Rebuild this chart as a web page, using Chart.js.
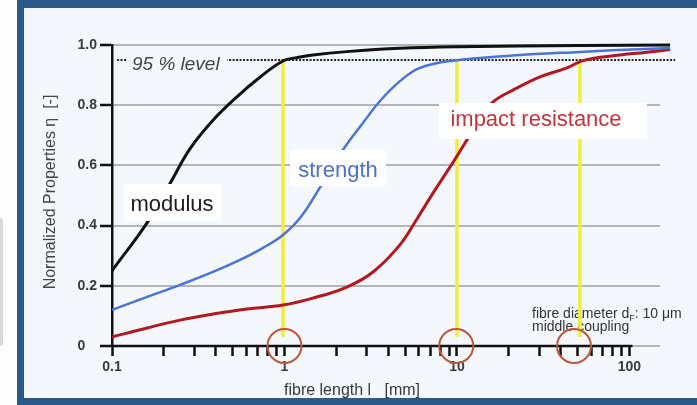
<!DOCTYPE html>
<html><head><meta charset="utf-8">
<script src="https://cdn.jsdelivr.net/npm/chart.js@4"></script>
<style>
html,body{margin:0;padding:0;background:#fdfdfd;width:697px;height:405px;overflow:hidden;}
#frame{position:absolute;left:17px;top:0;width:680px;height:405px;box-sizing:border-box;border-top:8px solid #2b5a88;border-left:7px solid #2b5a88;border-bottom:7px solid #2b5a88;background:#f4f7fb;}
#side{position:absolute;left:0;top:218px;width:3px;height:128px;background:#d8d8d8;border-radius:0 3px 3px 0;}
canvas{position:absolute;left:0;top:0;}
</style></head><body>
<div id="frame"></div><div id="side"></div>
<canvas id="c" width="697" height="405"></canvas>
<script>
// ---- data ----
const modulusX  = [0.1, 0.16, 0.217, 0.283, 0.385, 0.53, 0.72, 0.98, 1.18, 1.46, 2.3, 4.67, 10, 51.6, 172];
const modulusY  = [0.25, 0.41, 0.54, 0.655, 0.75, 0.828, 0.893, 0.947, 0.958, 0.967, 0.978, 0.989, 0.994, 0.998, 1.0];

const strengthX = [0.1, 0.16, 0.248, 0.385, 0.552, 0.751, 0.98, 1.23, 1.61, 2.18, 2.85, 3.58, 4.67, 6.1, 9.48, 21.1, 51.6, 123, 172];
const strengthY = [0.12, 0.163, 0.203, 0.246, 0.286, 0.326, 0.369, 0.425, 0.528, 0.651, 0.741, 0.814, 0.88, 0.924, 0.948, 0.965, 0.977, 0.987, 0.99];

const impactX   = [0.1, 0.16, 0.248, 0.385, 0.606, 0.98, 1.46, 2.3, 3.26, 4.67, 5.86, 7.26, 9.36, 11.4, 13.6, 16.2, 21.1, 30.3, 43.4, 53.8, 80.2, 126, 172];
const impactY   = [0.03, 0.06, 0.086, 0.106, 0.123, 0.136, 0.159, 0.196, 0.246, 0.336, 0.422, 0.508, 0.605, 0.684, 0.757, 0.811, 0.85, 0.894, 0.924, 0.948, 0.964, 0.976, 0.985];

const level = 0.95;
const levelX = [0.107, 184];
const yellowX = [0.98, 10, 51.6];
const yellowBottom = 0.03;
const circleX = [1.0, 9.9, 47.7];

const xMajorTicks = [0.1, 1, 10, 100];
const xTickLabels = ['0.1', '1', '10', '100'];
const yTickValues = [0, 0.2, 0.4, 0.6, 0.8, 1.0];
const yTickLabels = ['0', '0.2', '0.4', '0.6', '0.8', '1.0'];

const curveLabels = ['modulus', 'strength', 'impact resistance'];
const levelLabel = '95 % level';
const xTitle = 'fibre length l   [mm]';
const yTitle = 'Normalized Properties η  [-]';

// ---- helpers ----
const pts = (xs, ys) => xs.map((x, i) => ({x, y: ys[i]}));
const FONT = 'Liberation Sans, Arial, sans-serif';
function wholeSignificand(v){
  const e = Math.floor(Math.log10(v) + 1e-9);
  const s = v / Math.pow(10, e);
  return Math.abs(s - Math.round(s)) < 1e-6;
}
function xLabel(v){
  const i = xMajorTicks.findIndex(m => Math.abs(Math.log10(v) - Math.log10(m)) < 1e-6);
  return i >= 0 ? xTickLabels[i] : '';
}
function yLabel(v){
  const i = yTickValues.findIndex(t => Math.abs(t - v) < 1e-6);
  if (i < 0) return '';
  return i === 0 ? yTickLabels[i] + '   ' : yTickLabels[i];
}

const curve = {tension: 0.4, pointRadius: 0, clip: false};
const datasets = [
  {label: curveLabels[0], data: pts(modulusX, modulusY), borderColor: '#111111', borderWidth: 3, ...curve, order: 1},
  {label: curveLabels[1], data: pts(strengthX, strengthY), borderColor: '#4a74d4', borderWidth: 2.5, ...curve, order: 2},
  {label: curveLabels[2], data: pts(impactX, impactY), borderColor: '#b3171f', borderWidth: 3, ...curve, order: 3},
  {label: levelLabel, data: levelX.map(x => ({x, y: level})), borderColor: '#222222', borderWidth: 2,
   borderDash: [2, 1.5], pointRadius: 0, clip: false, order: 4},
  ...yellowX.map(x => ({data: [{x, y: level}, {x, y: yellowBottom}], borderColor: '#f1ee3c', borderWidth: 3.5,
   pointRadius: 0, clip: false, order: 5})),
  {data: circleX.map(x => ({x, y: 0})), showLine: false, pointRadius: 17, pointHoverRadius: 17,
   pointBorderColor: '#b9583c', pointBackgroundColor: 'rgba(0,0,0,0)', pointBorderWidth: 2, clip: false, order: 0}
];

const deco = {
  id: 'deco',
  beforeDatasetsDraw(chart){
    const {ctx, scales: {x, y}} = chart;
    ctx.save();
    // x axis line
    ctx.strokeStyle = '#111'; ctx.lineWidth = 2.5;
    ctx.beginPath();
    ctx.moveTo(x.getPixelForValue(0.1) - 1, y.getPixelForValue(0));
    ctx.lineTo(x.getPixelForValue(100) + 3, y.getPixelForValue(0));
    ctx.stroke();
    // note
    ctx.fillStyle = '#333';
    ctx.textBaseline = 'alphabetic';
    ctx.font = '14px ' + FONT;
    let tx = 532;
    const t1 = 'fibre diameter d';
    ctx.fillText(t1, tx, 318);
    tx += ctx.measureText(t1).width;
    ctx.font = '9px ' + FONT;
    ctx.fillText('F', tx, 321);
    tx += ctx.measureText('F').width;
    ctx.font = '14px ' + FONT;
    ctx.fillText(': 10 μm', tx, 318);
    ctx.fillText('middle coupling', 532, 331);
    ctx.restore();
  },
  afterDatasetsDraw(chart){
    const {ctx} = chart;
    ctx.save();
    // 95 % level
    ctx.fillStyle = '#f4f7fb';
    ctx.fillRect(127, 54, 100, 18);
    ctx.fillStyle = '#444';
    ctx.font = 'italic 19px ' + FONT;
    ctx.textAlign = 'left';
    ctx.fillText(levelLabel, 132, 69.5);
    // curve labels
    const lab = (txt, color, box, cx, base) => {
      ctx.fillStyle = '#ffffff';
      ctx.fillRect(box[0], box[1], box[2] - box[0], box[3] - box[1]);
      ctx.fillStyle = color;
      ctx.font = '22px ' + FONT;
      ctx.textAlign = 'center';
      ctx.fillText(txt, cx, base);
    };
    lab(curveLabels[0], '#1d1d1d', [124, 184, 221, 221], 172, 211);
    lab(curveLabels[1], '#4d70c8', [290, 150, 386, 186], 338, 177);
    lab(curveLabels[2], '#c0343c', [439, 103, 647, 139], 536, 126);
    ctx.restore();
  },
  afterDraw(chart){
    const {ctx} = chart;
    ctx.save();
    ctx.fillStyle = '#3a3a3a';
    ctx.font = '16px ' + FONT;
    ctx.textAlign = 'center';
    ctx.textBaseline = 'alphabetic';
    ctx.fillText(xTitle, 352, 395);
    ctx.translate(55, 192);
    ctx.rotate(-Math.PI / 2);
    ctx.fillStyle = '#444';
    ctx.fillText(yTitle, 0, 0);
    ctx.restore();
  }
};

new Chart(document.getElementById('c'), {
  type: 'line',
  data: {datasets},
  plugins: [deco],
  options: {
    responsive: false, animation: false, devicePixelRatio: 1, events: [],
    layout: {padding: {left: 0, top: 45, right: 37, bottom: 0}},
    plugins: {legend: {display: false}, tooltip: {enabled: false}},
    scales: {
      x: {
        type: 'logarithmic', min: 0.1, max: 150.3,
        afterFit: s => { s.height = 59; },
        afterBuildTicks: s => { s.ticks = s.ticks.filter(t => t.value <= 100.001 && wholeSignificand(t.value)); },
        grid: {drawOnChartArea: false, drawTicks: true, tickLength: 10, tickColor: '#111', tickWidth: 2.5, color: '#111'},
        border: {display: false},
        ticks: {autoSkip: false, maxRotation: 0, minRotation: 0, padding: 3, color: '#3a3a3a',
                font: {family: FONT, size: 14, weight: 'bold'}, callback: v => xLabel(v)}
      },
      y: {
        min: 0, max: 1,
        afterFit: s => { s.width = 112; },
        grid: {color: '#b4b4b4', lineWidth: 2, tickLength: 12, tickColor: '#111', tickWidth: 2.5},
        border: {display: true, color: '#111', width: 2.5},
        ticks: {stepSize: 0.2, padding: 3, color: '#3a3a3a',
                font: {family: FONT, size: 14, weight: 'bold'}, callback: v => yLabel(v)}
      }
    }
  }
});
</script></body></html>
